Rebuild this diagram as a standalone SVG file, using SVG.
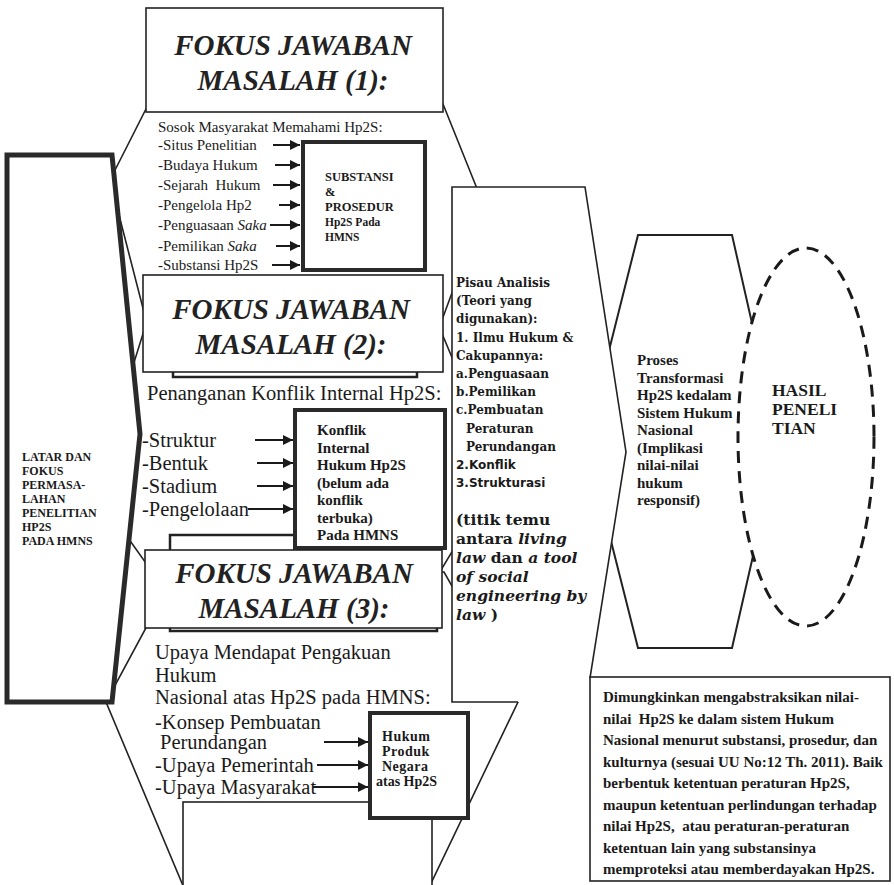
<svg xmlns="http://www.w3.org/2000/svg" width="894" height="885" viewBox="0 0 894 885">
<defs>
<marker id="ah" viewBox="0 0 10 10" refX="10" refY="5" markerWidth="11" markerHeight="10" markerUnits="userSpaceOnUse" orient="auto"><path d="M0,0L10,5L0,10z" fill="#1a1a1a"/></marker>
<style>
.hx{fill:#fff;stroke:#222;stroke-width:1.6}
.bx{fill:#fff;stroke:#222;stroke-width:1.6}
.ln{fill:none;stroke:#222;stroke-width:1.6}
.tk{fill:#fff;stroke:#2a2a2a;stroke-width:4}
.ar{stroke:#1a1a1a;stroke-width:2;fill:none;marker-end:url(#ah)}
text{font-family:"Liberation Serif","Times New Roman",serif;fill:#1a1a1a}
.t1{font-size:15px}
.t2{font-size:20.5px}
.ttl{font-family:"Liberation Serif","Times New Roman",serif;font-size:29px;font-weight:bold;font-style:italic;text-anchor:middle;fill:#222}
.b{font-weight:bold}
.it{font-style:italic}
.sm{font-size:12.5px;font-weight:bold}
.lb{font-size:12px;font-weight:bold}
.kf{font-size:15px;font-weight:bold}
.hp{font-size:14px;font-weight:bold;letter-spacing:0.5px}
.pz{font-family:"DejaVu Serif",serif;font-size:12px;font-weight:bold}
.ps{font-family:"DejaVu Sans",sans-serif;font-size:12px;font-weight:bold}
.pi{font-family:"DejaVu Serif",serif;font-size:15.5px;font-weight:bold}
.pr{font-size:15px;font-weight:bold}
.pre{white-space:pre}
</style>
</defs>
<rect width="894" height="885" fill="#fff"/>

<g id="frame-3">
<polygon class="hx" points="176,572 444,572 518,702 423,900 189,900 106,702"/>
<rect class="bx" x="183" y="802" width="249" height="100"/>
</g>
<g id="frame-2">
<polygon class="hx" points="152,305 430,305 500,472 429,590 165,590 94,490"/>
</g>
<g id="frame-1">
<polygon class="hx" points="147,107 443,104 484,206 442,320 146,320 110,180"/>
</g>

<g id="list-1">
<text class="t1" x="158" y="132">Sosok Masyarakat Memahami Hp2S:</text>
<text class="t1" x="158" y="150">-Situs Penelitian</text>
<text class="t1" x="158" y="170">-Budaya Hukum</text>
<text class="t1 pre" x="158" y="190">-Sejarah  Hukum</text>
<text class="t1" x="158" y="210">-Pengelola Hp2</text>
<text class="t1" x="158" y="230">-Penguasaan <tspan class="it">Saka</tspan></text>
<text class="t1" x="158" y="251">-Pemilikan <tspan class="it">Saka</tspan></text>
<text class="t1" x="158" y="270">-Substansi Hp2S</text>
</g>
<g id="substansi">
<rect class="tk" x="303" y="142" width="122" height="128"/>
<text class="sm" x="325" y="181">SUBSTANSI</text>
<text class="sm" x="325" y="196">&amp;</text>
<text class="sm" x="325" y="211">PROSEDUR</text>
<text class="sm" x="325" y="226" style="font-size:11.5px">Hp2S Pada</text>
<text class="sm" x="325" y="241" style="font-size:11.5px">HMNS</text>
</g>

<g id="fokus-1">
<rect class="bx" x="146" y="8" width="297" height="104"/>
<text class="ttl" x="293" y="55">FOKUS JAWABAN</text>
<text class="ttl" x="293" y="90">MASALAH (1):</text>
</g>

<g id="fokus-2">
<rect class="bx" x="173" y="282" width="244" height="95" style="stroke-width:2.5"/>
<rect class="bx" x="143" y="275" width="300" height="97"/>
<text class="ttl" x="291" y="319">FOKUS JAWABAN</text>
<text class="ttl" x="291" y="354">MASALAH (2):</text>
</g>

<g id="list-2">
<text class="t2" x="147" y="400">Penanganan Konflik Internal Hp2S:</text>
<text class="t2" x="142" y="447">-Struktur</text>
<text class="t2" x="142" y="470">-Bentuk</text>
<text class="t2" x="142" y="493">-Stadium</text>
<text class="t2" x="142" y="516">-Pengelolaan</text>
</g>

<g id="fokus-3-back">
<rect class="bx" x="170" y="535" width="267" height="96" style="stroke-width:2.5"/>
</g>

<g id="konflik">
<rect class="tk" x="295" y="410" width="150" height="138"/>
<text class="kf" x="317" y="435">Konflik</text>
<text class="kf" x="317" y="452.5">Internal</text>
<text class="kf" x="317" y="470">Hukum Hp2S</text>
<text class="kf" x="317" y="487.5">(belum ada</text>
<text class="kf" x="317" y="505">konflik</text>
<text class="kf" x="317" y="522.5">terbuka)</text>
<text class="kf" x="317" y="540">Pada HMNS</text>
</g>

<g id="fokus-3">
<rect class="bx" x="145" y="550" width="297" height="78"/>
<text class="ttl" x="294" y="583">FOKUS JAWABAN</text>
<text class="ttl" x="294" y="618">MASALAH (3):</text>
</g>

<g id="list-3">
<text class="t2" x="155" y="659">Upaya Mendapat Pengakuan</text>
<text class="t2" x="155" y="682">Hukum</text>
<text class="t2" x="155" y="704">Nasional atas Hp2S pada HMNS:</text>
<text class="t2" x="155" y="729">-Konsep Pembuatan</text>
<text class="t2" x="160" y="749">Perundangan</text>
<text class="t2" x="155" y="772">-Upaya Pemerintah</text>
<text class="t2" x="155" y="794">-Upaya Masyarakat</text>
</g>

<g id="hukum-produk">
<rect class="tk" x="370" y="713" width="98" height="105"/>
<text class="hp" x="382" y="741">Hukum</text>
<text class="hp" x="382" y="756">Produk</text>
<text class="hp" x="382" y="771">Negara</text>
<text class="hp" x="376" y="786" style="letter-spacing:0">atas Hp2S</text>
</g>

<g id="latar">
<polygon points="7,155 112,155 140,434 112,702 7,702" fill="#fff" stroke="#2a2a2a" stroke-width="5"/>
<text class="lb" x="22" y="461">LATAR DAN</text>
<text class="lb" x="22" y="475">FOKUS</text>
<text class="lb" x="22" y="489">PERMASA-</text>
<text class="lb" x="22" y="503">LAHAN</text>
<text class="lb" x="22" y="517">PENELITIAN</text>
<text class="lb" x="22" y="531">HP2S</text>
<text class="lb" x="22" y="545">PADA HMNS</text>
</g>

<g id="proses">
<polygon points="586,442 638,235 732,235 779,442 732,648 638,648" fill="#fff" stroke="#222" stroke-width="2"/>
<text class="pr" x="637" y="365">Proses</text>
<text class="pr" x="637" y="382.5">Transformasi</text>
<text class="pr" x="637" y="400">Hp2S kedalam</text>
<text class="pr" x="637" y="417.5">Sistem Hukum</text>
<text class="pr" x="637" y="435">Nasional</text>
<text class="pr" x="637" y="452.5">(Implikasi</text>
<text class="pr" x="637" y="470">nilai-nilai</text>
<text class="pr" x="637" y="487.5">hukum</text>
<text class="pr" x="637" y="505">responsif)</text>
</g>

<g id="pisau">
<polygon points="452,187 585,187 626,452 590,678 590,702 452,702" fill="#fff"/>
<polyline class="ln" points="518,702 452,702 452,187 585,187 626,452 590,678"/>
<text class="pz" x="456" y="287">Pisau Analisis</text>
<text class="pz" x="456" y="305">(Teori yang</text>
<text class="pz" x="456" y="323">digunakan):</text>
<text class="pz" x="456" y="342">1. Ilmu Hukum &amp;</text>
<text class="pz" x="456" y="360">Cakupannya:</text>
<text class="pz" x="456" y="378">a.Penguasaan</text>
<text class="pz" x="456" y="396">b.Pemilikan</text>
<text class="pz" x="456" y="414">c.Pembuatan</text>
<text class="pz" x="466" y="433">Peraturan</text>
<text class="pz" x="466" y="451">Perundangan</text>
<text class="ps" x="456" y="469">2.Konflik</text>
<text class="ps" x="456" y="487">3.Strukturasi</text>
<text class="pi" x="456" y="525">(titik temu</text>
<text class="pi" x="456" y="544">antara <tspan class="it">living</tspan></text>
<text class="pi" x="456" y="563"><tspan class="it">law</tspan> dan <tspan class="it">a tool</tspan></text>
<text class="pi it" x="456" y="582">of social</text>
<text class="pi it" x="456" y="601">engineering by</text>
<text class="pi" x="456" y="620"><tspan class="it">law</tspan> )</text>
</g>

<g id="hasil">
<ellipse cx="806" cy="437" rx="68" ry="189" fill="#fff" stroke="#1a1a1a" stroke-width="3" stroke-dasharray="12 8"/>
<text class="b" x="772" y="396" style="font-size:17.5px">HASIL</text>
<text class="b" x="772" y="415" style="font-size:17.5px">PENELI</text>
<text class="b" x="772" y="434" style="font-size:17.5px">TIAN</text>
</g>

<g id="kesimpulan">
<rect class="bx" x="590" y="677" width="300" height="204"/>
<text class="pr pre" x="603" y="702">Dimungkinkan mengabstraksikan nilai-</text>
<text class="pr pre" x="603" y="723.5">nilai  Hp2S ke dalam sistem Hukum</text>
<text class="pr pre" x="603" y="745">Nasional menurut substansi, prosedur, dan</text>
<text class="pr pre" x="603" y="766.5">kulturnya (sesuai UU No:12 Th. 2011). Baik</text>
<text class="pr pre" x="603" y="788">berbentuk ketentuan peraturan Hp2S,</text>
<text class="pr pre" x="603" y="809.5">maupun ketentuan perlindungan terhadap</text>
<text class="pr pre" x="603" y="831">nilai Hp2S,  atau peraturan-peraturan</text>
<text class="pr pre" x="603" y="852.5">ketentuan lain yang substansinya</text>
<text class="pr pre" x="603" y="874">memproteksi atau memberdayakan Hp2S.</text>
</g>

<g id="connectors">
<line class="ar" x1="273" y1="145" x2="300" y2="145"/>
<line class="ar" x1="275" y1="165" x2="300" y2="165"/>
<line class="ar" x1="273" y1="185" x2="300" y2="185"/>
<line class="ar" x1="279" y1="205" x2="300" y2="205"/>
<line class="ar" x1="270" y1="225" x2="300" y2="225"/>
<line class="ar" x1="276" y1="246" x2="300" y2="246"/>
<line class="ar" x1="272" y1="265" x2="300" y2="265"/>
<line class="ar" x1="255" y1="440" x2="293" y2="440"/>
<line class="ar" x1="257" y1="463" x2="293" y2="463"/>
<line class="ar" x1="257" y1="486" x2="293" y2="486"/>
<line class="ar" x1="248" y1="509" x2="293" y2="509"/>
<line class="ar" x1="324" y1="742" x2="368" y2="742"/>
<line class="ar" x1="317" y1="765" x2="368" y2="765"/>
<line class="ar" x1="313" y1="787" x2="368" y2="787"/>
</g>
</svg>
